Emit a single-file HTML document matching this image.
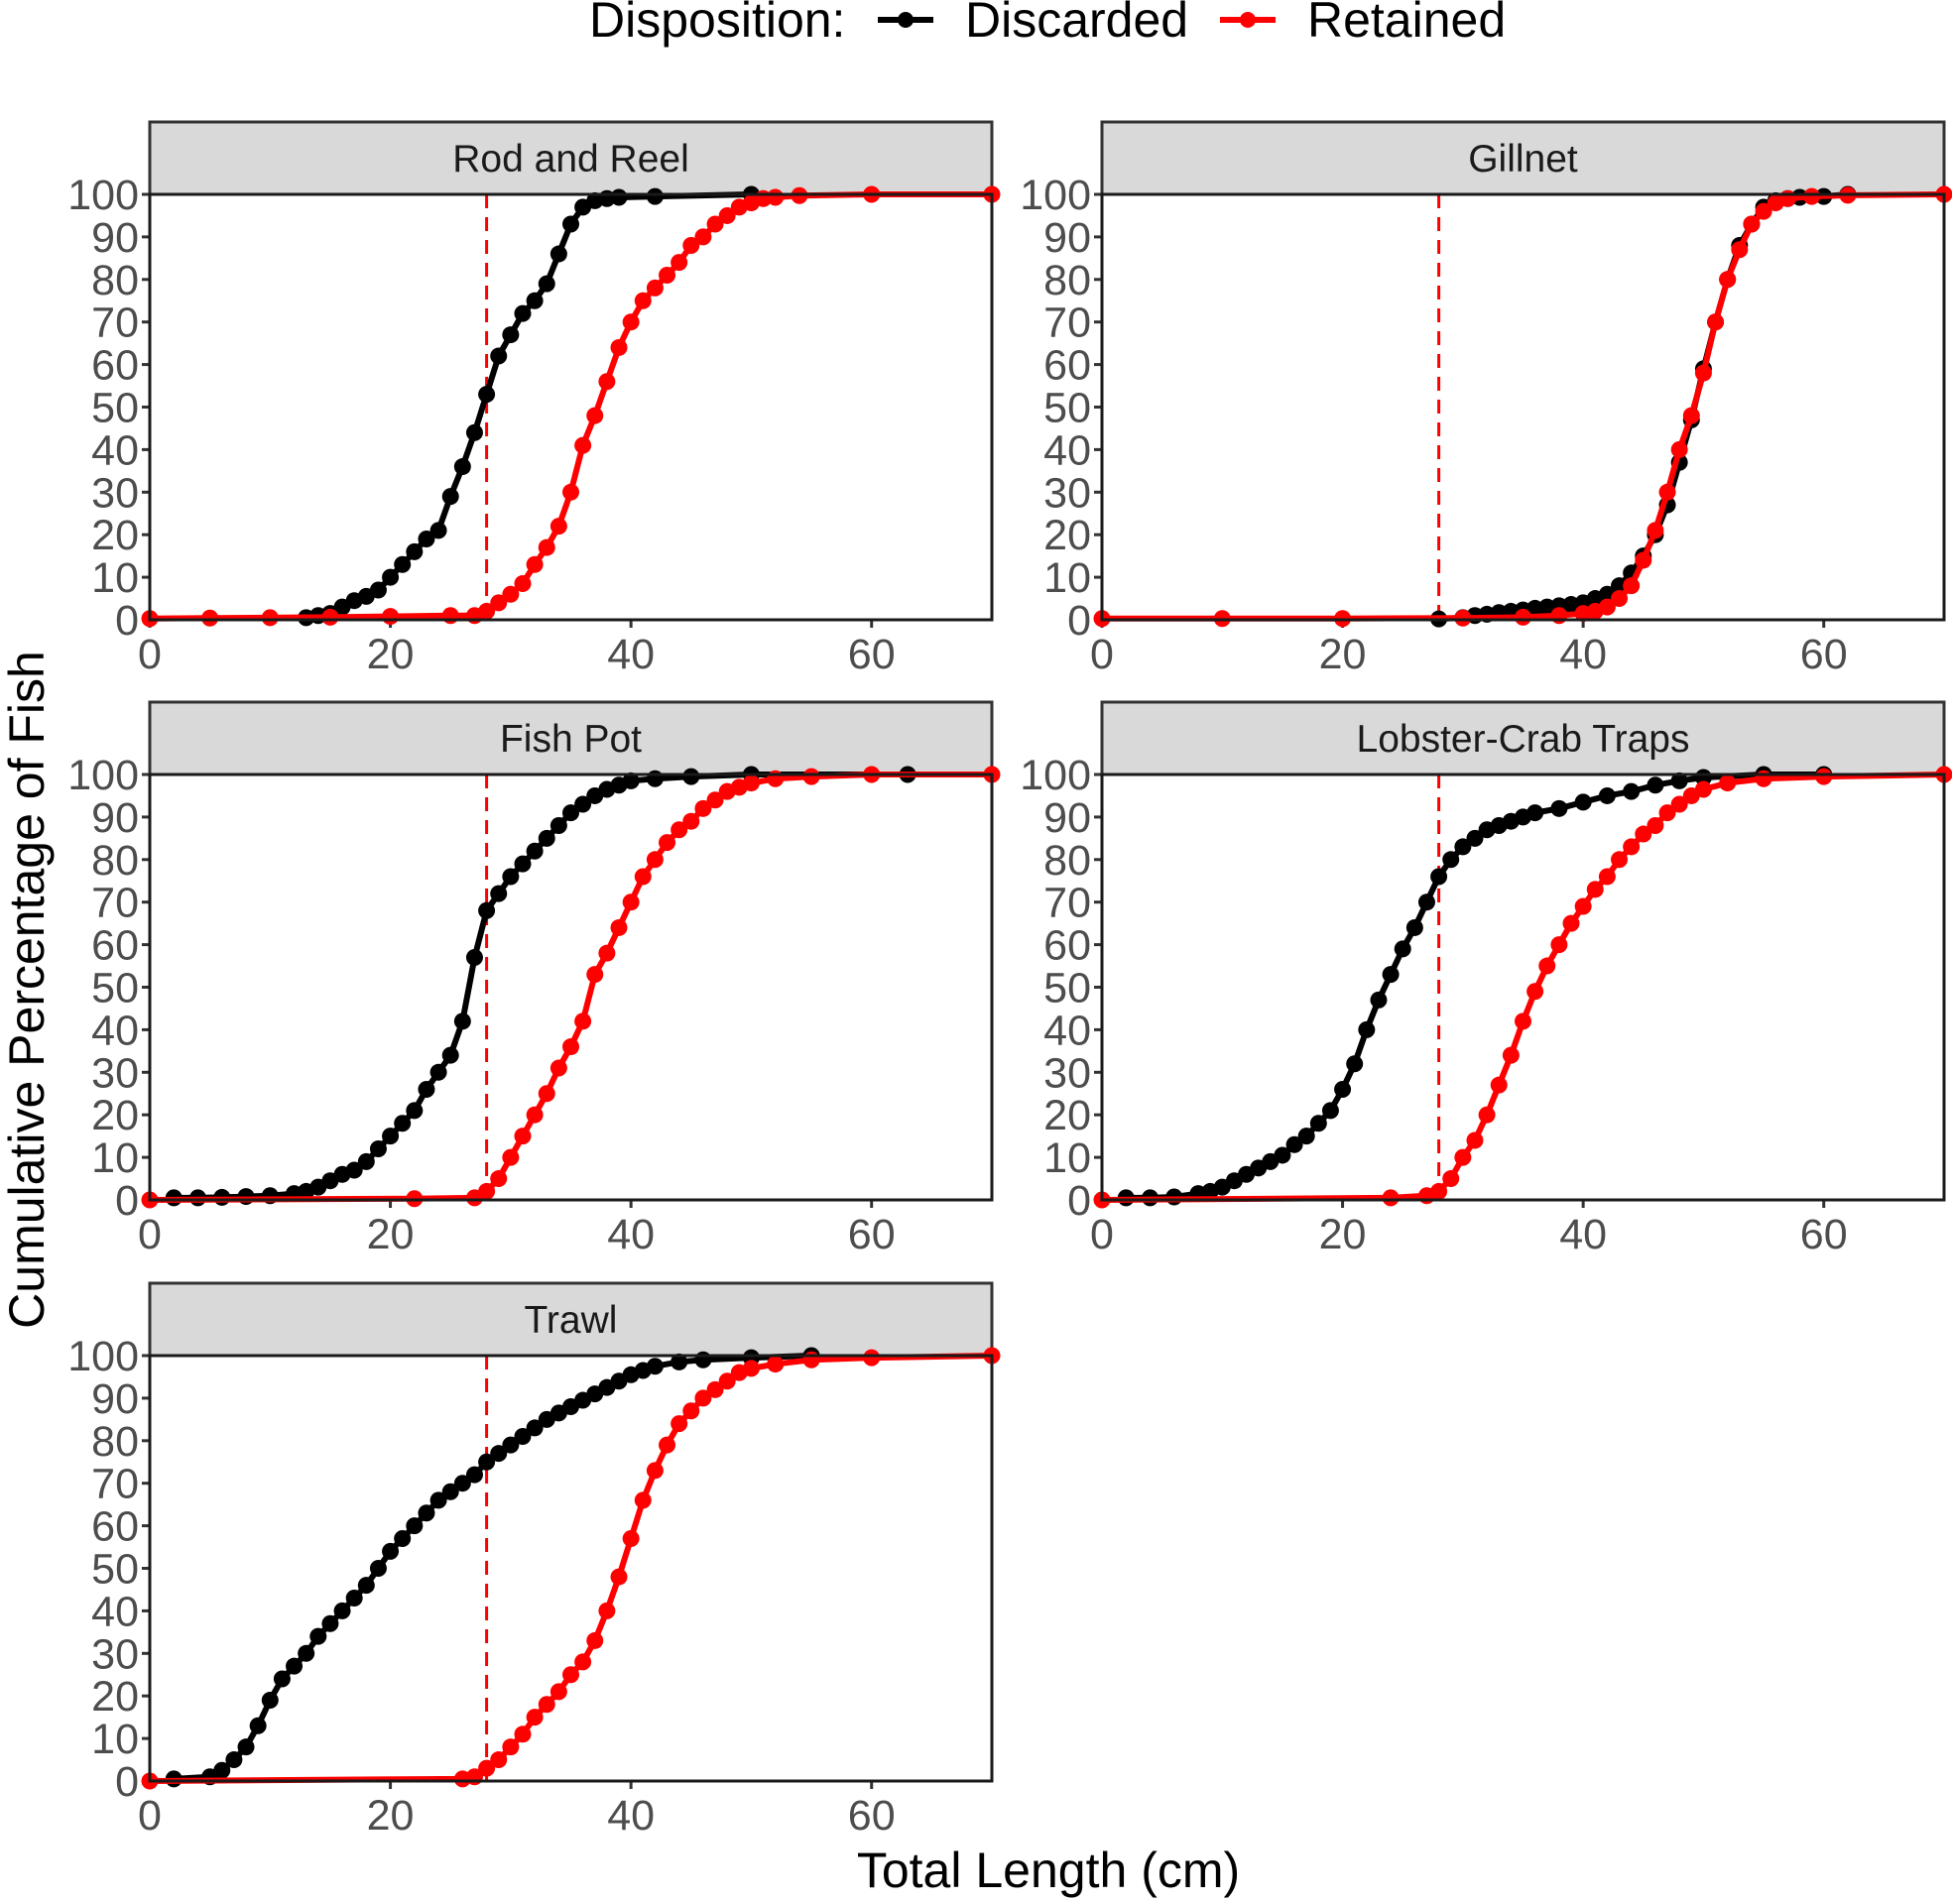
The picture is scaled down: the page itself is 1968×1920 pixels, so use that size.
<!DOCTYPE html>
<html><head><meta charset="utf-8"><style>
html,body{margin:0;padding:0;background:#fff}
svg{display:block;font-family:"Liberation Sans",sans-serif}
</style></head><body>
<svg id="chart" width="1968" height="1920" viewBox="0 0 1968 1920" xmlns="http://www.w3.org/2000/svg">
<g>
<text x="594" y="37" font-size="50" fill="#000">Disposition:</text>
<g>
<line x1="885" y1="20" x2="941" y2="20" stroke="#000" stroke-width="6"/><circle cx="913" cy="20" r="8" fill="#000"/>
<text x="973" y="37" font-size="50" fill="#000">Discarded</text></g>
<g>
<line x1="1230" y1="20" x2="1286" y2="20" stroke="#f00" stroke-width="6"/><circle cx="1258" cy="20" r="8" fill="#f00"/>
<text x="1318" y="37" font-size="50" fill="#000">Retained</text></g>
</g>
<text transform="translate(44,998) rotate(-90)" text-anchor="middle" font-size="50" fill="#000">Cumulative Percentage of Fish</text>
<text x="1057" y="1903" text-anchor="middle" font-size="50" fill="#000">Total Length (cm)</text>
<g id="panels"></g>
</svg>
<script>
const panelNames = ["Rod and Reel","Gillnet","Fish Pot","Lobster-Crab Traps","Trawl"];
const xTicks = [0,20,40,60];
const yTicks = [0,10,20,30,40,50,60,70,80,90,100];
const minSize = 28;
const rodDiscX = [13,14,15,16,17,18,19,20,21,22,23,24,25,26,27,28,29,30,31,32,33,34,35,36,37,38,39,42,50];
const rodDiscY = [0.5,1,1.5,3,4.5,5.5,7,10,13,16,19,21,29,36,44,53,62,67,72,75,79,86,93,97,98.5,99,99.3,99.5,100];
const rodRetX = [0,5,10,15,20,25,27,28,29,30,31,32,33,34,35,36,37,38,39,40,41,42,43,44,45,46,47,48,49,50,51,52,54,60,70];
const rodRetY = [0.3,0.4,0.5,0.6,0.8,1,1,2,4,6,8.5,13,17,22,30,41,48,56,64,70,75,78,81,84,88,90,93,95,97,98,99,99.3,99.7,100,100];
const gillDiscX = [28,30,31,32,33,34,35,36,37,38,39,40,41,42,43,44,45,46,47,48,49,50,51,52,53,54,55,56,57,58,60,62];
const gillDiscY = [0.2,0.5,1,1.3,1.7,2,2.3,2.7,3,3.3,3.6,4,5,6,8,11,15,20,27,37,47,59,70,80,88,93,97,98.5,99,99.3,99.5,100];
const gillRetX = [0,10,20,30,35,38,40,41,42,43,44,45,46,47,48,49,50,51,52,53,54,55,56,57,59,62,70];
const gillRetY = [0.3,0.3,0.3,0.4,0.6,1,1.5,2,3,5,8,14,21,30,40,48,58,70,80,87,93,96,98,99,99.5,99.8,100];
const potDiscX = [2,4,6,8,10,12,13,14,15,16,17,18,19,20,21,22,23,24,25,26,27,28,29,30,31,32,33,34,35,36,37,38,39,40,42,45,50,63];
const potDiscY = [0.5,0.5,0.6,0.8,1,1.5,2,3,4.5,6,7,9,12,15,18,21,26,30,34,42,57,68,72,76,79,82,85,88,91,93,95,96.5,97.5,98.5,99,99.5,100,100];
const potRetX = [0,22,27,28,29,30,31,32,33,34,35,36,37,38,39,40,41,42,43,44,45,46,47,48,49,50,52,55,60,70];
const potRetY = [0,0.3,0.5,2,5,10,15,20,25,31,36,42,53,58,64,70,76,80,84,87,89,92,94,96,97,98,99,99.5,100,100];
const lobDiscX = [2,4,6,8,9,10,11,12,13,14,15,16,17,18,19,20,21,22,23,24,25,26,27,28,29,30,31,32,33,34,35,36,38,40,42,44,46,48,50,55,60];
const lobDiscY = [0.5,0.5,0.7,1.5,2,3,4.5,6,7.5,9,10.5,13,15,18,21,26,32,40,47,53,59,64,70,76,80,83,85,87,88,89,90,91,92,93.5,95,96,97.5,98.5,99.3,100,100];
const lobRetX = [0,24,27,28,29,30,31,32,33,34,35,36,37,38,39,40,41,42,43,44,45,46,47,48,49,50,52,55,60,70];
const lobRetY = [0,0.5,1,2,5,10,14,20,27,34,42,49,55,60,65,69,73,76,80,83,86,88,91,93,95,96.5,98,99,99.5,100];
const trDiscX = [2,5,6,7,8,9,10,11,12,13,14,15,16,17,18,19,20,21,22,23,24,25,26,27,28,29,30,31,32,33,34,35,36,37,38,39,40,41,42,44,46,50,55];
const trDiscY = [0.5,1,2.5,5,8,13,19,24,27,30,34,37,40,43,46,50,54,57,60,63,66,68,70,72,75,77,79,81,83,85,86.5,88,89.5,91,92.5,94,95.5,96.5,97.5,98.5,99,99.5,100];
const trRetX = [0,26,27,28,29,30,31,32,33,34,35,36,37,38,39,40,41,42,43,44,45,46,47,48,49,50,52,55,60,70];
const trRetY = [0,0.5,1,3,5,8,11,15,18,21,25,28,33,40,48,57,66,73,79,84,87,90,92,94,96,97,98,99,99.5,100];
const discardedX = [rodDiscX,gillDiscX,potDiscX,lobDiscX,trDiscX];
const discardedY = [rodDiscY,gillDiscY,potDiscY,lobDiscY,trDiscY];
const retainedX = [rodRetX,gillRetX,potRetX,lobRetX,trRetX];
const retainedY = [rodRetY,gillRetY,potRetY,lobRetY,trRetY];

const NS="http://www.w3.org/2000/svg";
const colL=[151,1111], panelW=849;
const rowTop=[196,781,1367], panelH=429, stripH=73;
function mk(tag,attrs,parent){const e=document.createElementNS(NS,tag);for(const k in attrs)e.setAttribute(k,attrs[k]);parent.appendChild(e);return e;}
const root=document.getElementById('panels');
panelNames.forEach((name,i)=>{
  const L=colL[i%2], T=rowTop[Math.floor(i/2)], B=T+panelH, R=L+panelW;
  const sx=v=>L+v/70*panelW, sy=v=>B-v/100*panelH;
  const g=mk('g',{},root);
  
  
  const strip=mk('rect',{x:L,y:T-stripH,width:panelW,height:stripH,fill:'#d9d9d9',stroke:'#333','stroke-width':3},g);
  
  
  const st=mk('text',{x:L+panelW/2,y:T-23,'text-anchor':'middle','font-size':39,fill:'#1a1a1a'},g);
  st.textContent=name;
  
  
  yTicks.forEach(t=>{
    mk('line',{x1:L-8,x2:L,y1:sy(t),y2:sy(t),stroke:'#333','stroke-width':3},g);
    const tx=mk('text',{x:L-11,y:sy(t)+15,'text-anchor':'end','font-size':43,fill:'#4d4d4d'},g);
    tx.textContent=t;
    
    
  });
  xTicks.forEach(t=>{
    mk('line',{x1:sx(t),x2:sx(t),y1:B,y2:B+8,stroke:'#333','stroke-width':3},g);
    const tx=mk('text',{x:sx(t),y:B+49,'text-anchor':'middle','font-size':43,fill:'#4d4d4d'},g);
    tx.textContent=t;
    
    
  });
  const vl=mk('line',{x1:sx(minSize),x2:sx(minSize),y1:T,y2:B,stroke:'#f00','stroke-width':3,'stroke-dasharray':'14,9'},g);
  
  
  [[discardedX[i],discardedY[i],'#000','discarded'],[retainedX[i],retainedY[i],'#f00','retained']].forEach(([xs,ys,c,nm])=>{
    const pts=xs.map((x,j)=>sx(x)+','+sy(ys[j])).join(' ');
    const pl=mk('polyline',{points:pts,fill:'none',stroke:c,'stroke-width':6,'stroke-linejoin':'round'},g);
    
    
    xs.forEach((x,j)=>{
      const p=mk('circle',{cx:sx(x),cy:sy(ys[j]),r:8.5,fill:c},g);
      
      
    });
  });
  const fr=mk('rect',{x:L,y:T,width:panelW,height:panelH,fill:'none',stroke:'#1a1a1a','stroke-width':3},g);
  
  
});
</script>
</body></html>
